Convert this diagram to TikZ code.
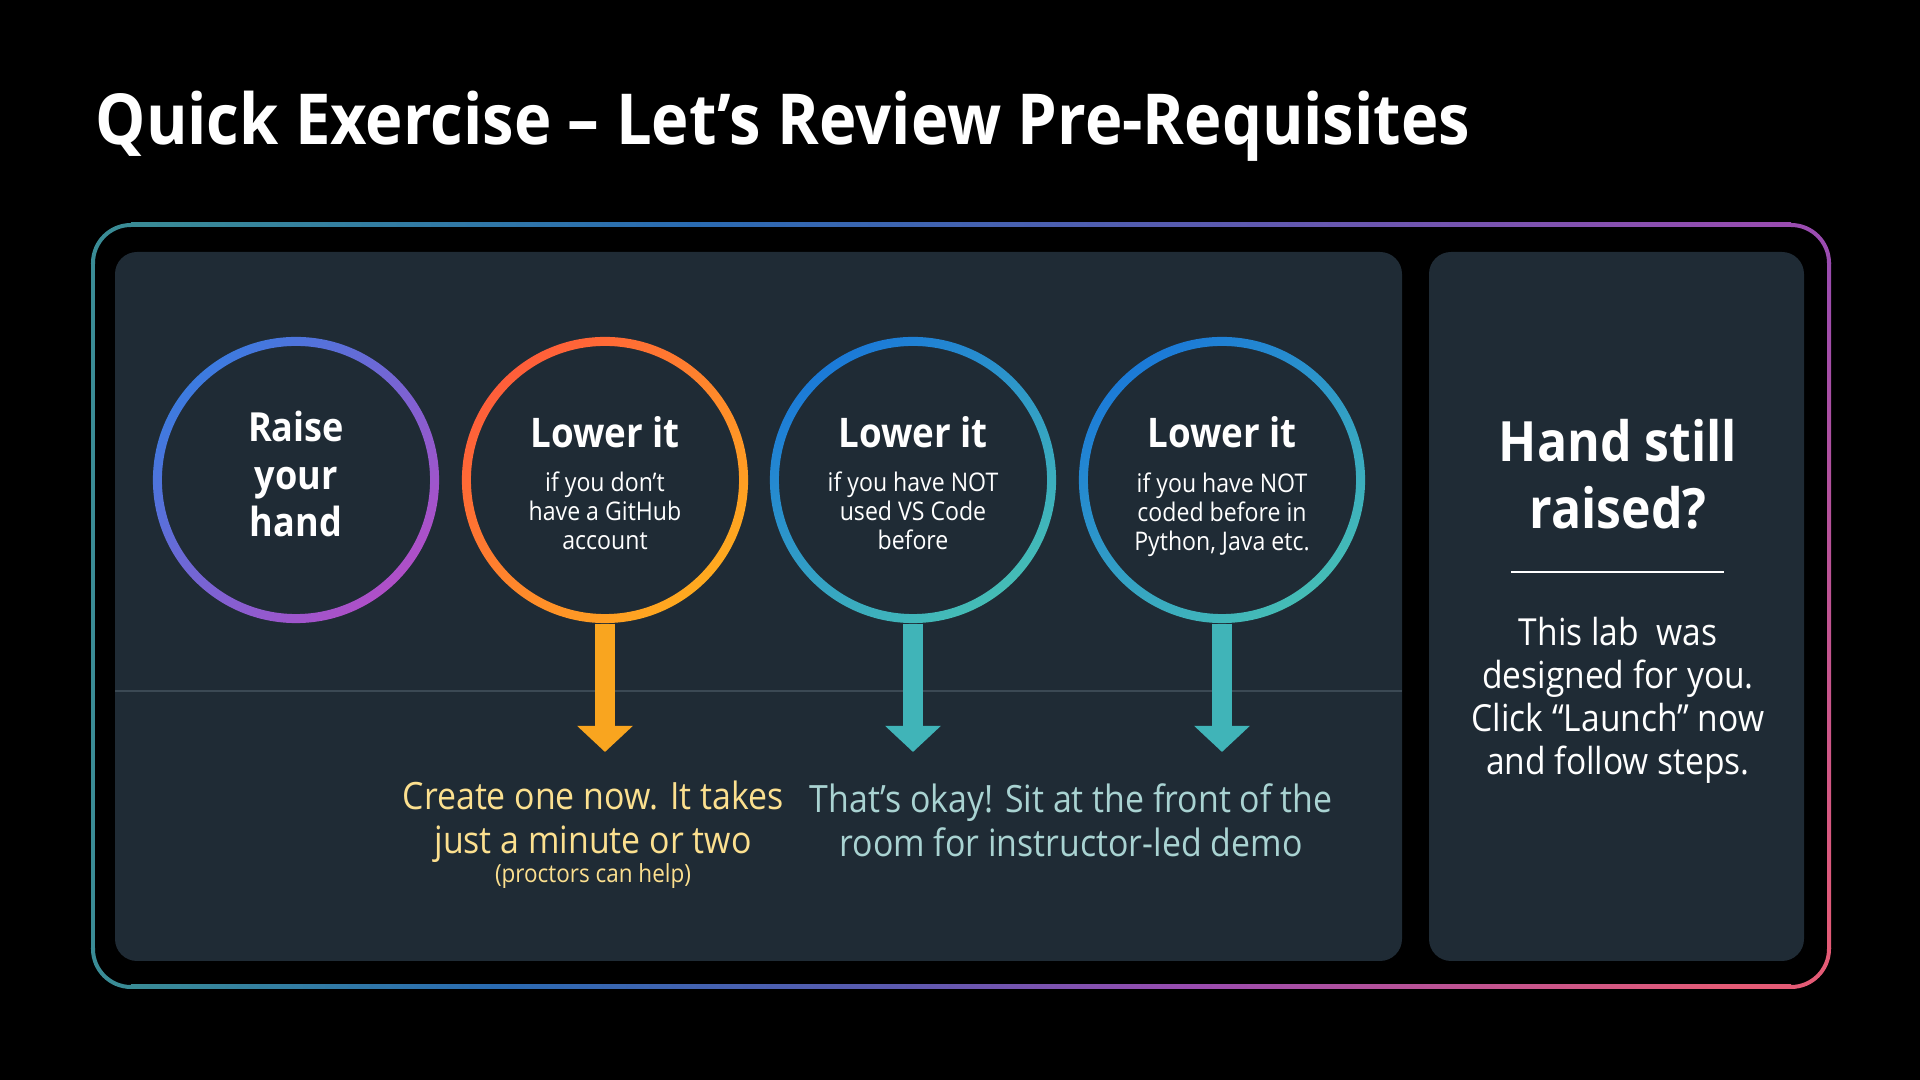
\documentclass[tikz,border=0pt]{standalone}
\usepackage{fontspec}
\setmainfont{Open Sans}[FakeStretch=0.9]
\usetikzlibrary{arrows.meta,positioning,calc}

\definecolor{panelbg}{HTML}{1F2B35}
\definecolor{divline}{HTML}{3B4954}
\definecolor{frameteal}{HTML}{3A8C96}
\definecolor{frameblue}{HTML}{2A6BB2}
\definecolor{frameindigo}{HTML}{5C5AB0}
\definecolor{framepurple}{HTML}{9A4CB0}
\definecolor{framepink}{HTML}{E45B76}
\definecolor{raiseblue}{HTML}{3C7BE0}
\definecolor{raisepurple}{HTML}{B04FC8}
\definecolor{gitred}{HTML}{FF5E3A}
\definecolor{gitamber}{HTML}{FFAA1F}
\definecolor{codeblue}{HTML}{1B7AD8}
\definecolor{codeteal}{HTML}{45BDB6}
\definecolor{arroworange}{HTML}{F9A51F}
\definecolor{arrowteal}{HTML}{40B4B8}
\definecolor{noteyellow}{HTML}{FCE08F}
\definecolor{noteteal}{HTML}{A9D3D2}

\pgfdeclarehorizontalshading{frametop}{100bp}{color(0bp)=(frameteal); color(25bp)=(frameteal); color(42bp)=(frameblue); color(58bp)=(frameindigo); color(75bp)=(framepurple); color(100bp)=(framepurple)}
\pgfdeclarehorizontalshading{framebottom}{100bp}{color(0bp)=(frameteal); color(25bp)=(frameteal); color(36bp)=(frameblue); color(48bp)=(frameindigo); color(57bp)=(framepurple); color(73bp)=(framepink); color(100bp)=(framepink)}

\tikzset{
  panel/.style={fill=panelbg, rounded corners=0.22cm},
  framecorner/.style={line width=0.04cm, rounded corners=0.38cm},
  ring/.style={circle, minimum size=2.86cm, inner sep=0pt},
  raisetext/.style={text=white, align=center, font=\fontsize{11.4}{13.4}\selectfont\bfseries},
  headtext/.style={text=white, inner sep=0pt, font=\fontsize{11.6}{14}\selectfont\bfseries},
  smalltext/.style={text=white, align=center, inner sep=0pt, font=\fontsize{7.3}{8.2}\selectfont},
  downarrow/.style={line width=0.2cm, line cap=butt, -{Triangle[width=0.54cm,length=0.26cm]}},
  notetext/.style={align=center, inner sep=0pt, font=\fontsize{10.7}{12.5}\selectfont},
}

\begin{document}
\begin{tikzpicture}[x=0.01cm, y=-0.01cm, line join=round]

\fill[black] (0,0) rectangle (1920,1080);
\useasboundingbox (0,0) rectangle (1920,1080);

% title
\node[anchor=base west, inner sep=0pt, text=white, font=\fontsize{20}{24}\selectfont\bfseries] (title) at (95,145) {Quick Exercise – Let’s Review Pre-Requisites};

% gradient frame
\shade[shading=frametop] (131,223) rectangle (1791,227);
\shade[shading=framebottom] (131,985) rectangle (1791,989);
\fill[frameteal] (91,263) rectangle (95,949);
\shade[top color=framepurple, bottom color=framepink] (1827,263) rectangle (1831,949);
\draw[framecorner, frameteal] (93,264) -- (93,225) -- (132,225);
\draw[framecorner, framepurple] (1790,225) -- (1829,225) -- (1829,264);
\draw[framecorner, frameteal] (93,948) -- (93,987) -- (132,987);
\draw[framecorner, framepink] (1790,987) -- (1829,987) -- (1829,948);

% panels
\fill[panel] (115,252) rectangle (1402,961);
\fill[panel] (1429,252) rectangle (1804,961);
\draw[divline, line width=0.02cm] (115,691) -- (1402,691);

% circles
\node[ring] (raise) at (296,480) {};
\node[ring] (github) at (605,480) {};
\node[ring] (vscode) at (913,480) {};
\node[ring] (coding) at (1222,480) {};

% arrows
\coordinate (githubtip) at (605,752);
\coordinate (vscodetip) at (913,752);
\coordinate (codingtip) at (1222,752);
\draw[downarrow, arroworange] (github.south) -- (githubtip);
\draw[downarrow, arrowteal] (vscode.south) -- (vscodetip);
\draw[downarrow, arrowteal] (coding.south) -- (codingtip);

\shade[top color=raiseblue, bottom color=raisepurple, shading angle=45, even odd rule]
  (raise.center) circle[radius=1.43cm] (raise.center) circle[radius=1.34cm];
\shade[top color=gitred, bottom color=gitamber, shading angle=45, even odd rule]
  (github.center) circle[radius=1.43cm] (github.center) circle[radius=1.34cm];
\shade[top color=codeblue, bottom color=codeteal, shading angle=35, even odd rule]
  (vscode.center) circle[radius=1.43cm] (vscode.center) circle[radius=1.34cm];
\shade[top color=codeblue, bottom color=codeteal, shading angle=35, even odd rule]
  (coding.center) circle[radius=1.43cm] (coding.center) circle[radius=1.34cm];

% circle texts
\node[raisetext] (raiselbl) at (296,474) {Raise\\your\\hand};
\node[headtext] (githubhead) at (605,432) {Lower it};
\node[smalltext] (githubnote) at (605,511) {if you don’t\\have a GitHub\\account};
\node[headtext] (vscodehead) at (913,432) {Lower it};
\node[smalltext] (vscodenote) at (913,511) {if you have NOT\\used VS Code\\before};
\node[headtext] (codinghead) at (1222,432) {Lower it};
\node[smalltext] (codingnote) at (1222,515) {if you have NOT\\coded before in\\Python, Java etc.};

% outcomes
\node[notetext, text=noteyellow] (createnote) at (593,822) {Create one now. It takes\\just a minute or two};
\node[notetext, text=noteyellow, font=\fontsize{7.1}{8}\selectfont] (proctors) at (593,876) {(proctors can help)};
\node[notetext, text=noteteal] (frontnote) at (1071,820) {That’s okay! Sit at the front of the\\room for instructor-led demo};

% right panel
\node[text=white, align=center, font=\fontsize{15.8}{19}\selectfont\bfseries] (stillraised) at (1618,474) {Hand still\\raised?};
\draw[white, line width=0.015cm] (1511,572) -- (1724,572);
\node[text=white, align=center, font=\fontsize{10.6}{12.2}\selectfont] (launchnote) at (1618,700) {This lab~ was\\designed for you.\\Click “Launch” now\\and follow steps.};

\end{tikzpicture}
\end{document}
